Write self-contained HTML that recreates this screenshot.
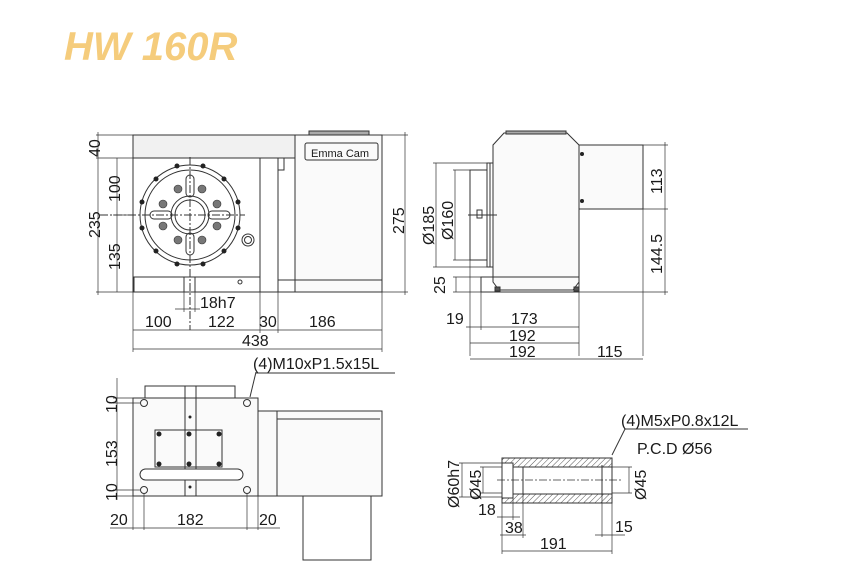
<!DOCTYPE html>
<html><head><meta charset="utf-8"><style>
html,body{margin:0;padding:0;background:#fff;}
svg{display:block;}
text{font-family:"Liberation Sans",sans-serif;fill:#1a1a1a;}
</style></head><body>
<svg width="860" height="573" viewBox="0 0 860 573" xmlns="http://www.w3.org/2000/svg">
<defs>
<pattern id="h" width="4" height="4" patternUnits="userSpaceOnUse" patternTransform="rotate(45)">
<line x1="0" y1="0" x2="0" y2="4" stroke="#555" stroke-width="1"/></pattern>
</defs>
<text x="64" y="60" font-size="40" font-style="italic" font-weight="bold" style="fill:#f5cc7c">HW 160R</text>

<g stroke="#333" stroke-width="1" fill="none">
<rect x="133" y="135" width="162" height="23" fill="#f1f1f1"/>
<rect x="295" y="135" width="87" height="157" fill="#fafafa"/>
<rect x="309" y="131" width="60" height="4" fill="#aaa"/>
<rect x="305" y="143" width="73" height="17" rx="2"/>
<rect x="133" y="158" width="162" height="134"/>
<line x1="260" y1="158" x2="260" y2="292"/>
<line x1="278" y1="158" x2="278" y2="292"/>
<rect x="278" y="158" width="6" height="12"/>
<rect x="278" y="280" width="104" height="12"/>
<rect x="134" y="277" width="126" height="15"/>
<rect x="184" y="277" width="11" height="15"/>
<circle cx="240" cy="282" r="2"/>
<circle cx="190" cy="215" r="50"/>
<circle cx="190" cy="215" r="45"/>
<circle cx="190" cy="215" r="19"/>
<circle cx="190" cy="215" r="15"/>
<circle cx="248" cy="240" r="6"/><circle cx="248" cy="240" r="3.5"/>
<line x1="100" y1="215" x2="245" y2="215" stroke-dasharray="8,2,2,2"/>
<line x1="190" y1="157" x2="190" y2="330" stroke-dasharray="8,2,2,2"/>
<rect x="186" y="175" width="8" height="22" rx="4"/>
<rect x="186" y="233" width="8" height="22" rx="4"/>
<rect x="150" y="211" width="22" height="8" rx="4"/>
<rect x="208" y="211" width="22" height="8" rx="4"/>
</g>
<g fill="#222">
<circle cx="177" cy="166" r="2.5"/><circle cx="203" cy="166" r="2.5"/>
<circle cx="156" cy="179" r="2.5"/><circle cx="224" cy="179" r="2.5"/>
<circle cx="142" cy="202" r="2.5"/><circle cx="238" cy="202" r="2.5"/>
<circle cx="142" cy="228" r="2.5"/><circle cx="238" cy="228" r="2.5"/>
<circle cx="156" cy="251" r="2.5"/><circle cx="224" cy="251" r="2.5"/>
<circle cx="177" cy="264" r="2.5"/><circle cx="203" cy="264" r="2.5"/>
</g>
<g fill="#777" stroke="#333" stroke-width="0.6">
<circle cx="178" cy="189" r="4"/><circle cx="202" cy="189" r="4"/>
<circle cx="163" cy="204" r="4"/><circle cx="217" cy="204" r="4"/>
<circle cx="163" cy="226" r="4"/><circle cx="217" cy="226" r="4"/>
<circle cx="178" cy="240" r="4"/><circle cx="202" cy="240" r="4"/>
</g>
<text x="311" y="157" font-size="11">Emma Cam</text>
<g stroke="#333" stroke-width="0.7" fill="none">
<line x1="96" y1="135" x2="133" y2="135"/><line x1="96" y1="158" x2="133" y2="158"/>
<line x1="96" y1="292" x2="133" y2="292"/>
<line x1="98" y1="132" x2="98" y2="295"/>
<line x1="117" y1="158" x2="117" y2="292"/>
<line x1="113" y1="215" x2="133" y2="215"/>
<line x1="382" y1="135" x2="408" y2="135"/><line x1="382" y1="292" x2="408" y2="292"/>
<line x1="405" y1="132" x2="405" y2="295"/>
<line x1="133" y1="292" x2="133" y2="352"/><line x1="260" y1="292" x2="260" y2="333"/>
<line x1="278" y1="292" x2="278" y2="333"/><line x1="382" y1="292" x2="382" y2="352"/>
<line x1="184" y1="292" x2="184" y2="312"/><line x1="195" y1="292" x2="195" y2="312"/>
<line x1="175" y1="309" x2="200" y2="309"/>
<line x1="133" y1="330" x2="382" y2="330"/>
<line x1="133" y1="349" x2="382" y2="349"/>
</g>
<g font-size="16">
<text transform="translate(100,157) rotate(-90)">40</text>
<text transform="translate(120,202) rotate(-90)">100</text>
<text transform="translate(100,238) rotate(-90)">235</text>
<text transform="translate(120,270) rotate(-90)">135</text>
<text transform="translate(404,234) rotate(-90)">275</text>
<text x="200" y="308">18h7</text>
<text x="145" y="327">100</text><text x="208" y="327">122</text>
<text x="259" y="327">30</text><text x="309" y="327">186</text>
<text x="242" y="346">438</text>
</g>

<g stroke="#333" stroke-width="1" fill="none">
<path d="M504 133 L567 133 L579 145 L579 282 L573 290 L499 290 L493 282 L493 145 Z" fill="#fafafa"/>
<rect x="506" y="131" width="60" height="3" fill="#aaa"/>
<rect x="579" y="145" width="64" height="64" fill="#fafafa"/>
<rect x="487" y="163" width="6" height="104"/>
<line x1="490" y1="163" x2="490" y2="267"/>
<rect x="470" y="170" width="17" height="90"/>
<rect x="477" y="210" width="5" height="8"/>
<line x1="468" y1="215" x2="497" y2="215"/>
<rect x="481" y="277" width="98" height="15"/>
<rect x="495" y="287" width="5" height="4" fill="#555"/><rect x="574" y="287" width="5" height="4" fill="#555"/>
</g>
<circle cx="582" cy="154" r="2" fill="#222"/><circle cx="582" cy="201" r="2" fill="#222"/>
<g stroke="#333" stroke-width="0.7" fill="none">
<line x1="433" y1="163" x2="487" y2="163"/><line x1="433" y1="267" x2="487" y2="267"/>
<line x1="436" y1="163" x2="436" y2="267"/>
<line x1="453" y1="170" x2="470" y2="170"/><line x1="453" y1="260" x2="470" y2="260"/>
<line x1="455" y1="170" x2="455" y2="260"/>
<line x1="453" y1="277" x2="481" y2="277"/><line x1="453" y1="292" x2="481" y2="292"/>
<line x1="456" y1="277" x2="456" y2="292"/>
<line x1="643" y1="145" x2="668" y2="145"/><line x1="643" y1="209" x2="668" y2="209"/>
<line x1="579" y1="292" x2="668" y2="292"/>
<line x1="665" y1="142" x2="665" y2="295"/>
<line x1="470" y1="260" x2="470" y2="356"/><line x1="481" y1="292" x2="481" y2="330"/>
<line x1="579" y1="292" x2="579" y2="356"/><line x1="643" y1="209" x2="643" y2="356"/>
<line x1="466" y1="327" x2="579" y2="327"/>
<line x1="470" y1="343" x2="579" y2="343"/>
<line x1="470" y1="359" x2="643" y2="359"/>
</g>
<g font-size="16">
<text transform="translate(434,245) rotate(-90)">Ø185</text>
<text transform="translate(453,240) rotate(-90)">Ø160</text>
<text transform="translate(445,294) rotate(-90)">25</text>
<text transform="translate(662,194) rotate(-90)">113</text>
<text transform="translate(662,274) rotate(-90)">144.5</text>
<text x="446" y="324">19</text><text x="511" y="324">173</text>
<text x="509" y="341">192</text>
<text x="509" y="357">192</text><text x="597" y="357">115</text>
</g>

<g stroke="#333" stroke-width="1" fill="none">
<rect x="145" y="386" width="90" height="12"/>
<rect x="133" y="398" width="125" height="98" fill="#fafafa"/>
<rect x="185" y="386" width="11" height="110"/>
<rect x="155" y="430" width="67" height="37"/>
<rect x="140" y="469" width="103" height="11" rx="5.5" fill="#fff"/>
<rect x="258" y="411" width="124" height="85" fill="#fafafa"/>
<line x1="277" y1="411" x2="277" y2="496"/>
<line x1="277" y1="419" x2="380" y2="419"/>
<rect x="303" y="496" width="68" height="64"/>
<circle cx="144" cy="403" r="3.5"/><circle cx="247" cy="403" r="3.5"/>
<circle cx="144" cy="490" r="3.5"/><circle cx="247" cy="490" r="3.5"/>
<line x1="250" y1="397" x2="256" y2="372"/><line x1="256" y1="373" x2="395" y2="373"/>
</g>
<g fill="#222">
<circle cx="159" cy="434" r="2.5"/><circle cx="189" cy="434" r="2.5"/><circle cx="219" cy="434" r="2.5"/>
<circle cx="159" cy="464" r="2.5"/><circle cx="189" cy="464" r="2.5"/><circle cx="219" cy="464" r="2.5"/>
<circle cx="190" cy="417" r="1.5"/><circle cx="190" cy="487" r="1.5"/>
</g>
<text x="253" y="369" font-size="16">(4)M10xP1.5x15L</text>
<g stroke="#333" stroke-width="0.7">
<line x1="117" y1="378" x2="117" y2="500"/>
<line x1="113" y1="398" x2="133" y2="398"/><line x1="113" y1="403" x2="140" y2="403"/>
<line x1="113" y1="490" x2="140" y2="490"/><line x1="113" y1="496" x2="133" y2="496"/>
<line x1="133" y1="496" x2="133" y2="530"/><line x1="144" y1="494" x2="144" y2="530"/>
<line x1="247" y1="494" x2="247" y2="530"/><line x1="258" y1="496" x2="258" y2="530"/>
<line x1="110" y1="528" x2="280" y2="528"/>
</g>
<g font-size="16">
<text transform="translate(117,413) rotate(-90)">10</text>
<text transform="translate(117,467) rotate(-90)">153</text>
<text transform="translate(117,501) rotate(-90)">10</text>
<text x="110" y="525">20</text><text x="177" y="525">182</text><text x="259" y="525">20</text>
</g>

<g stroke="#333" stroke-width="1">
<rect x="502" y="458" width="110" height="9" fill="url(#h)"/>
<rect x="502" y="494" width="110" height="9" fill="url(#h)"/>
<g fill="none">
<rect x="502" y="463" width="11" height="35" fill="#fff"/>
<line x1="523" y1="467" x2="523" y2="494"/>
<line x1="602" y1="465" x2="602" y2="496"/>
<line x1="612" y1="458" x2="612" y2="503"/>
<line x1="497" y1="480" x2="622" y2="480" stroke-dasharray="8,2,2,2" stroke-width="0.7"/>
<line x1="612" y1="455" x2="625" y2="429"/><line x1="625" y1="429" x2="748" y2="429"/>
</g>
</g>
<g stroke="#333" stroke-width="0.7">
<line x1="459" y1="463" x2="502" y2="463"/><line x1="459" y1="497" x2="502" y2="497"/>
<line x1="462" y1="463" x2="462" y2="497"/>
<line x1="480" y1="467" x2="502" y2="467"/><line x1="480" y1="493" x2="502" y2="493"/>
<line x1="483" y1="467" x2="483" y2="493"/>
<line x1="612" y1="467" x2="632" y2="467"/><line x1="612" y1="493" x2="632" y2="493"/>
<line x1="629" y1="467" x2="629" y2="493"/>
<line x1="502" y1="503" x2="502" y2="554"/><line x1="513" y1="498" x2="513" y2="520"/>
<line x1="523" y1="494" x2="523" y2="538"/>
<line x1="602" y1="496" x2="602" y2="537"/><line x1="612" y1="503" x2="612" y2="554"/>
<line x1="497" y1="517" x2="520" y2="517"/>
<line x1="500" y1="535" x2="526" y2="535"/>
<line x1="595" y1="535" x2="625" y2="535"/>
<line x1="502" y1="551" x2="612" y2="551"/>
</g>
<g font-size="16">
<text x="621" y="426">(4)M5xP0.8x12L</text>
<text x="637" y="454">P.C.D Ø56</text>
<text transform="translate(459,508) rotate(-90)">Ø60h7</text>
<text transform="translate(481,500) rotate(-90)">Ø45</text>
<text transform="translate(646,500) rotate(-90)">Ø45</text>
<text x="478" y="515">18</text><text x="505" y="533">38</text>
<text x="615" y="532">15</text><text x="540" y="549">191</text>
</g>
</svg>
</body></html>
